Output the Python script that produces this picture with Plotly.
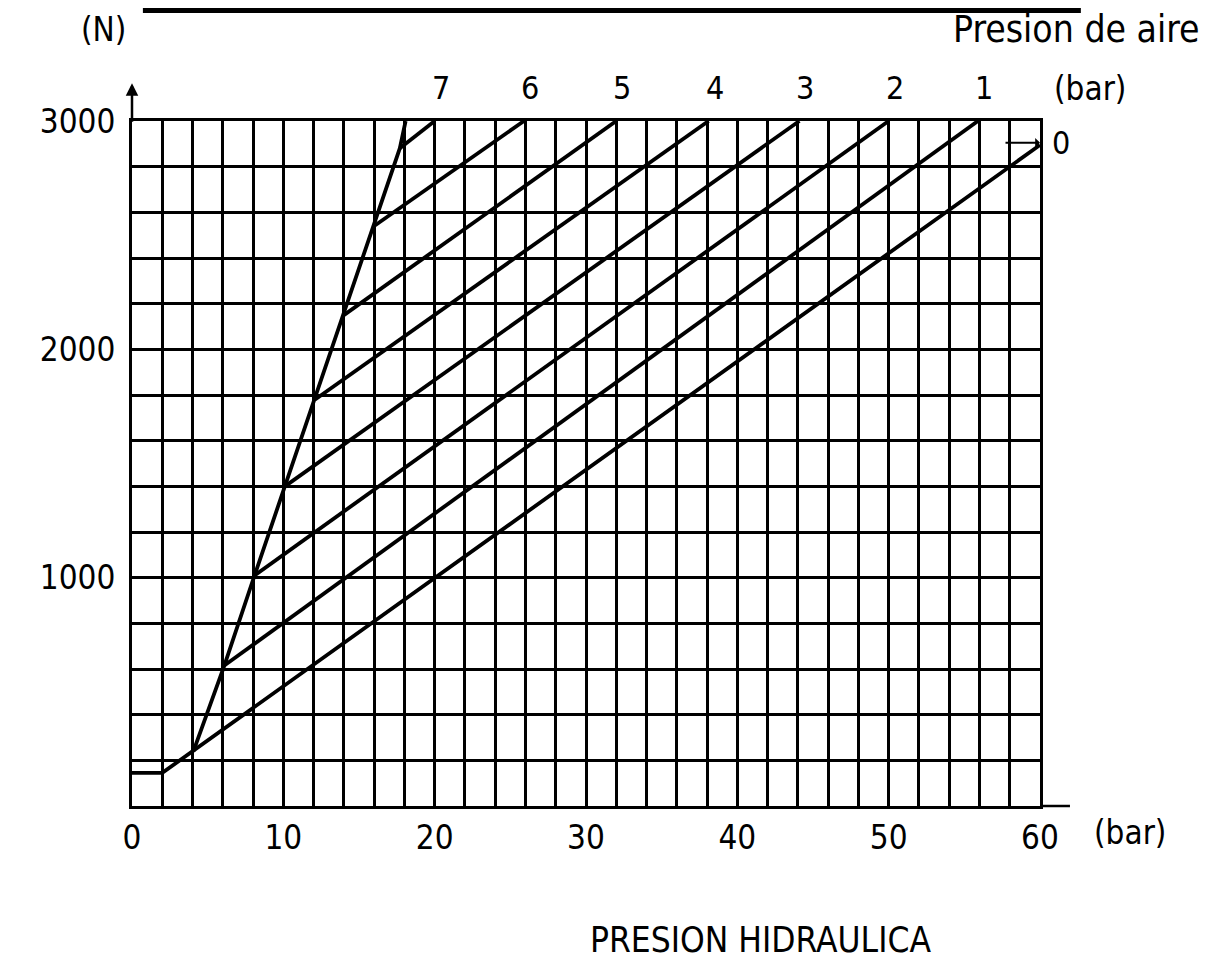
import plotly.graph_objects as go

# ---------------- data ----------------
air_pressure_labels = ["0", "1", "2", "3", "4", "5", "6", "7"]

# steep envelope line (start points of the air-pressure lines)
envelope_x = [4.05, 6.1, 8.1, 10.1, 12.1, 14.0, 15.93, 17.7, 18.08]
envelope_n = [238, 615, 1010, 1400, 1780, 2150, 2537, 2881, 3000]

# air pressure 0 bar line (with initial flat part)
line0_x = [0, 2, 60]
line0_n = [145, 145, 2895]

# air pressure 1..7 bar lines: start on envelope, end at top of chart
start_x = [6.1, 8.1, 10.1, 12.1, 14.0, 15.93, 17.7]
start_n = [615, 1010, 1400, 1780, 2150, 2537, 2881]
end_x = [55.9, 50.0, 44.1, 38.1, 32.0, 25.9, 20.0]
end_n = [3000, 3000, 3000, 3000, 3000, 3000, 3000]

x_ticks = [0, 10, 20, 30, 40, 50, 60]
y_ticks = [1000, 2000, 3000]

FONT = "DejaVu Sans Condensed, DejaVu Sans, sans-serif"
LW = 3.8

fig = go.Figure()

fig.add_trace(go.Scatter(x=envelope_x, y=envelope_n, mode="lines",
                         line=dict(color="black", width=LW), showlegend=False,
                         hoverinfo="skip"))
fig.add_trace(go.Scatter(x=line0_x, y=line0_n, mode="lines",
                         line=dict(color="black", width=LW), showlegend=False,
                         name="0 bar"))
for i in range(len(start_x)):
    fig.add_trace(go.Scatter(x=[start_x[i], end_x[i]], y=[start_n[i], end_n[i]],
                             mode="lines", line=dict(color="black", width=LW),
                             showlegend=False, name=air_pressure_labels[i + 1] + " bar"))


def txt(size):
    return dict(size=size, color="black", family=FONT)


annotations = []
# air pressure labels at top, above each line end
for i in range(len(end_x)):
    annotations.append(dict(x=end_x[i], y=end_n[i], xref="x", yref="y",
                            text=air_pressure_labels[i + 1], showarrow=False,
                            xanchor="center", yanchor="middle",
                            xshift=6, yshift=33, font=txt(32)))
# label 0 with leader arrow
annotations.append(dict(x=line0_x[-1], y=line0_n[-1], xref="x", yref="y",
                        text="0", showarrow=False, xanchor="center", yanchor="middle",
                        xshift=21, yshift=2, font=txt(32)))
annotations.append(dict(x=line0_x[-1], y=line0_n[-1] + 10, xref="x", yref="y",
                        text="", showarrow=True, ax=-36, ay=0, arrowhead=1,
                        arrowsize=0.8, arrowwidth=2, arrowcolor="black"))
# y-axis arrow
annotations.append(dict(x=0, y=1.055, xref="x", yref="paper", text="", showarrow=True,
                        ax=0, ay=40, arrowhead=2, arrowsize=1.0, arrowwidth=2.5,
                        arrowcolor="black"))
annotations += [
    dict(x=-0.031, y=1.133, xref="paper", yref="paper", text="(N)", showarrow=False,
         xanchor="center", yanchor="middle", font=txt(33)),
    dict(x=1.178, y=1.133, xref="paper", yref="paper", text="Presion de aire",
         showarrow=False, xanchor="right", yanchor="middle", font=txt(37)),
    dict(x=1.055, y=1.048, xref="paper", yref="paper", text="(bar)", showarrow=False,
         xanchor="center", yanchor="middle", font=txt(33)),
    dict(x=1.099, y=-0.038, xref="paper", yref="paper", text="(bar)", showarrow=False,
         xanchor="center", yanchor="middle", font=txt(33)),
    dict(x=0.692, y=-0.196, xref="paper", yref="paper", text="PRESION HIDRAULICA",
         showarrow=False, xanchor="center", yanchor="middle", font=txt(35)),
]

shapes = [
    # top black rule
    dict(type="line", xref="paper", yref="paper", x0=0.012, x1=1.045, y0=1.162, y1=1.162,
         line=dict(color="black", width=6)),
    # x-axis extension past 60 bar
    dict(type="line", xref="paper", yref="paper", x0=1.0, x1=1.033, y0=0, y1=0,
         line=dict(color="black", width=2.5)),
]

# page body has an 8 px margin: figure is placed so the plot area lands at
# x 132..1040, y 121..806 of the 1214x970 window, and fits without scrolling
fig.update_layout(
    width=1198, height=954,
    margin=dict(l=124, r=166, t=113, b=156),
    paper_bgcolor="white", plot_bgcolor="white",
    font=dict(family=FONT, color="black", size=32),
    annotations=annotations, shapes=shapes,
    showlegend=False,
)

fig.update_xaxes(
    range=[0, 60], tickmode="array", tickvals=x_ticks,
    ticktext=[str(v) for v in x_ticks],
    showgrid=True, gridcolor="black", gridwidth=3.2,
    minor=dict(dtick=2, tick0=0, showgrid=True, gridcolor="black", gridwidth=2.5),
    showline=True, linecolor="black", linewidth=3, mirror=True,
    zeroline=False, ticks="", ticklabelstandoff=0,
    tickfont=txt(33),
)
fig.update_yaxes(
    range=[0, 3000], tickmode="array", tickvals=y_ticks,
    ticktext=[str(v) for v in y_ticks],
    showgrid=True, gridcolor="black", gridwidth=3.2,
    minor=dict(dtick=200, tick0=0, showgrid=True, gridcolor="black", gridwidth=2.5),
    showline=True, linecolor="black", linewidth=3, mirror=True,
    zeroline=False, ticks="", ticklabelstandoff=7,
    tickfont=txt(33),
)

fig.write_html("out.html")
